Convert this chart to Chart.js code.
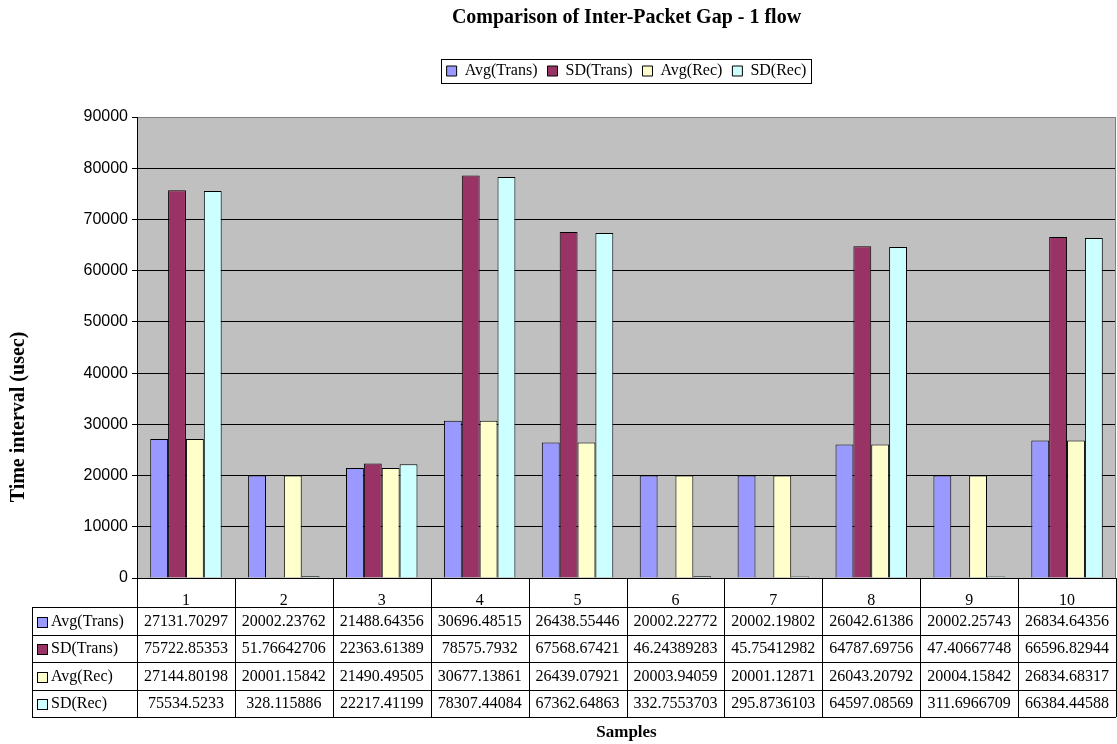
<!DOCTYPE html>
<html>
<head>
<meta charset="utf-8">
<script src="https://cdn.jsdelivr.net/npm/chart.js@4.4.1/dist/chart.umd.min.js"></script>
<style>
  body { margin: 0; background: #fff; }
  #wrap { width: 1117px; height: 744px; }
</style>
</head>
<body>
<div id="wrap"><canvas id="chart"></canvas></div>
<script>
// data
const samples = ['1', '2', '3', '4', '5', '6', '7', '8', '9', '10'];
const avgTrans = [27131.70297, 20002.23762, 21488.64356, 30696.48515, 26438.55446, 20002.22772, 20002.19802, 26042.61386, 20002.25743, 26834.64356];
const sdTrans = [75722.85353, 51.76642706, 22363.61389, 78575.7932, 67568.67421, 46.24389283, 45.75412982, 64787.69756, 47.40667748, 66596.82944];
const avgRec = [27144.80198, 20001.15842, 21490.49505, 30677.13861, 26439.07921, 20003.94059, 20001.12871, 26043.20792, 20004.15842, 26834.68317];
const sdRec = [75534.5233, 328.115886, 22217.41199, 78307.44084, 67362.64863, 332.7553703, 295.8736103, 64597.08569, 311.6966709, 66384.44588];

const serif = 'Liberation Serif';
const sans = 'Liberation Sans';
const yTitle = 'Time interval (usec)';

// grey plot area + border, legend frame, data table
const excelLook = {
    id: 'excelLook',
    beforeInit(chart) {
        // extra room under the legend
        const lg = chart.legend;
        if (lg) {
            const fit = lg.fit;
            lg.fit = function () {
                fit.call(this);
                this.height += 28;
            };
        }
    },
    beforeDraw(chart) {
        const { ctx, chartArea: a } = chart;
        ctx.save();
        ctx.fillStyle = '#C0C0C0';
        ctx.fillRect(a.left, a.top, a.right - a.left, a.bottom - a.top);
        ctx.restore();
    },
    afterDraw(chart) {
        const { ctx, chartArea: a } = chart;
        const x = chart.scales.x;
        ctx.save();
        // plot border
        ctx.strokeStyle = '#808080';
        ctx.lineWidth = 1;
        ctx.strokeRect(a.left + 0.5, a.top + 0.5, a.right - a.left - 1, a.bottom - a.top);
        ctx.strokeStyle = '#000';
        ctx.beginPath();
        ctx.moveTo(a.left + 0.5, a.top);
        ctx.lineTo(a.left + 0.5, a.bottom);
        ctx.stroke();

        // legend frame
        const boxes = chart.legend.legendHitBoxes;
        if (boxes && boxes.length) {
            const l = Math.min(...boxes.map(b => b.left)) - 6;
            const r = Math.max(...boxes.map(b => b.left + b.width)) + 4;
            const t = Math.min(...boxes.map(b => b.top)) - 4;
            const btm = Math.max(...boxes.map(b => b.top + b.height)) + 4;
            ctx.strokeStyle = '#000';
            ctx.strokeRect(Math.round(l) + 0.5, Math.round(t) + 0.5, Math.round(r - l), Math.round(btm - t));
        }

        // data table
        const step = x.getPixelForValue(1) - x.getPixelForValue(0);
        const rowTop = a.bottom + 29;
        const rowH = 27.5;
        const tableLeft = 32;
        const sets = chart.data.datasets;
        const bottom = rowTop + rowH * sets.length;
        ctx.strokeStyle = '#000';
        ctx.lineWidth = 1;
        ctx.beginPath();
        for (let i = 0; i <= samples.length; i++) {
            const xb = Math.round(x.getPixelForValue(i) - step / 2) + 0.5;
            ctx.moveTo(xb, a.bottom);
            ctx.lineTo(xb, bottom);
        }
        ctx.moveTo(a.left, a.bottom + 0.5);
        ctx.lineTo(a.right, a.bottom + 0.5);
        for (let k = 0; k <= sets.length; k++) {
            const yy = Math.round(rowTop + k * rowH) + 0.5;
            ctx.moveTo(tableLeft, yy);
            ctx.lineTo(a.right, yy);
        }
        ctx.moveTo(tableLeft + 0.5, rowTop);
        ctx.lineTo(tableLeft + 0.5, bottom);
        ctx.stroke();

        ctx.font = '16px "' + serif + '"';
        ctx.fillStyle = '#000';
        ctx.textBaseline = 'middle';
        sets.forEach((ds, k) => {
            const cy = rowTop + k * rowH + rowH / 2 + 1;
            ctx.fillStyle = ds.backgroundColor;
            ctx.fillRect(tableLeft + 5.5, Math.round(cy - 5) + 0.5, 10, 10);
            ctx.strokeStyle = '#000';
            ctx.strokeRect(tableLeft + 5.5, Math.round(cy - 5) + 0.5, 10, 10);
            ctx.fillStyle = '#000';
            ctx.textAlign = 'left';
            ctx.fillText(ds.label, tableLeft + 19, cy);
            ctx.textAlign = 'center';
            ds.data.forEach((v, i) => {
                ctx.fillText(String(v), x.getPixelForValue(i), cy);
            });
        });

        // y axis title, centred on plot + table like the original
        ctx.translate(19, (a.top + bottom) / 2);
        ctx.rotate(-Math.PI / 2);
        ctx.font = 'bold 20px "' + serif + '"';
        ctx.textAlign = 'center';
        ctx.fillStyle = '#000';
        ctx.fillText(yTitle, 0, 0);
        ctx.restore();
    }
};

new Chart(document.getElementById('chart'), {
    type: 'bar',
    data: {
        labels: samples,
        datasets: [
            { label: 'Avg(Trans)', data: avgTrans, backgroundColor: '#9999FF', borderColor: '#000', borderWidth: 1 },
            { label: 'SD(Trans)', data: sdTrans, backgroundColor: '#993366', borderColor: '#000', borderWidth: 1 },
            { label: 'Avg(Rec)', data: avgRec, backgroundColor: '#FFFFCC', borderColor: '#000', borderWidth: 1 },
            { label: 'SD(Rec)', data: sdRec, backgroundColor: '#CCFFFF', borderColor: '#000', borderWidth: 1 }
        ]
    },
    options: {
        responsive: true,
        maintainAspectRatio: false,
        animation: false,
        layout: { padding: { left: 0, right: 1, top: 0, bottom: 0 } },
        datasets: {
            bar: { categoryPercentage: 0.73, barPercentage: 1 }
        },
        plugins: {
            title: {
                display: true,
                fullSize: false,
                text: 'Comparison of Inter-Packet Gap - 1 flow',
                color: '#000',
                font: { family: serif, size: 20, weight: 'bold' },
                padding: { top: 6, bottom: 23 }
            },
            legend: {
                display: true,
                fullSize: false,
                position: 'top',
                labels: {
                    boxWidth: 10,
                    boxHeight: 10,
                    padding: 10,
                    color: '#000',
                    font: { family: serif, size: 16 }
                }
            },
            tooltip: { enabled: false }
        },
        scales: {
            x: {
                grid: { display: false },
                border: { display: false },
                ticks: { color: '#000', padding: 5, font: { family: serif, size: 16 } },
                title: {
                    display: true,
                    text: 'Samples',
                    color: '#000',
                    font: { family: serif, size: 17, weight: 'bold' },
                    padding: { top: 0, bottom: 1 }
                },
                afterFit: s => { s.height = 166; }
            },
            y: {
                min: 0,
                max: 90000,
                ticks: {
                    stepSize: 10000,
                    color: '#000',
                    padding: 4,
                    font: { family: sans, size: 16 },
                    callback: v => String(v)
                },
                grid: { color: '#000', tickLength: 5, tickColor: '#000' },
                border: { color: '#000' },
                afterFit: s => { s.width = 137; }
            }
        }
    },
    plugins: [excelLook]
});
</script>
</body>
</html>
